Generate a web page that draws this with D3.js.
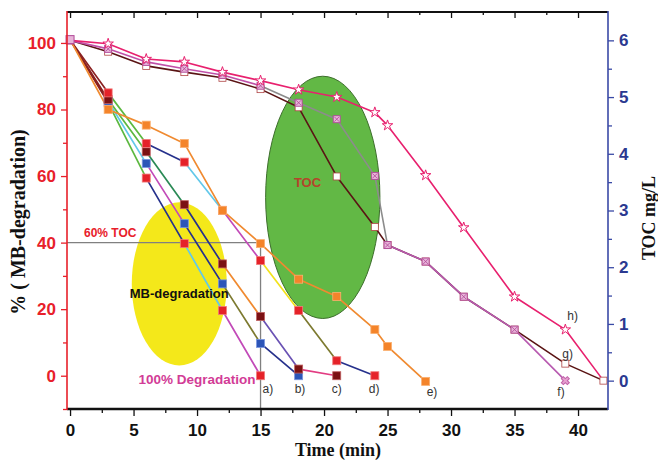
<!DOCTYPE html>
<html>
<head>
<meta charset="utf-8">
<script src="https://d3js.org/d3.v7.min.js"></script>
<style>
  body { margin: 0; background: #fff; }
  text { font-family: Arial, "Liberation Sans", sans-serif; }
  text.serif { font-family: "Liberation Serif", "Times New Roman", serif; }
</style>
</head>
<body>
<script>
// ---- MB degradation runs (% , left axis) ----
var timeA = [0, 3, 6, 9, 12, 15];
var degA  = [101, 82, 59.4, 39.7, 19.6, 0];
var timeB = [0, 3, 6, 9, 12, 15, 18];
var degB  = [101, 82.5, 63.8, 45.7, 27.6, 9.7, 0];
var timeC = [0, 3, 6, 9, 12, 15, 18, 21];
var degC  = [101, 83, 67.3, 51.4, 33.6, 17.8, 2, 0];
var timeD = [0, 3, 6, 9, 12, 15, 18, 21, 24];
var degD  = [101, 85, 69.8, 64.2, 49.7, 34.6, 19.6, 4.5, 0];
var timeE = [0, 3, 6, 9, 12, 15, 18, 21, 24, 25, 28];
var degE  = [101, 80, 75.3, 69.8, 49.7, 39.7, 29, 23.8, 13.9, 8.8, -1.7];

// ---- TOC runs (mg/L, right axis) ----
var timeF = [0, 3, 6, 9, 12, 15, 18, 21, 24, 25, 28, 31, 35, 39];
var tocF  = [6.0, 5.85, 5.62, 5.5, 5.39, 5.2, 4.9, 4.61, 3.61, 2.39, 2.1, 1.48, 0.9, 0];
var timeG = [0, 3, 6, 9, 12, 15, 18, 21, 24, 25, 28, 31, 35, 39, 42];
var tocG  = [6.0, 5.8, 5.55, 5.44, 5.34, 5.14, 4.82, 3.6, 2.71, 2.39, 2.1, 1.48, 0.9, 0.3, 0];
var timeH = [0, 3, 6, 9, 12, 15, 18, 21, 24, 25, 28, 31, 35, 39, 42];
var tocH  = [6.0, 5.94, 5.67, 5.62, 5.44, 5.29, 5.13, 5.0, 4.73, 4.5, 3.62, 2.7, 1.48, 0.9, 0];

var xTicks = [0, 5, 10, 15, 20, 25, 30, 35, 40];
var yTicks = [0, 20, 40, 60, 80, 100];
var tocTicks = [0, 1, 2, 3, 4, 5, 6];

// segment colours (the original plot changes colour between points)
var brown = "#8a2020", green = "#5cb840", dgreen = "#2a8a55", cyan = "#62c8ea",
    navy = "#26318c", magenta = "#c24ab8", olive = "#7d7a30", yellow = "#f2e21c",
    purple = "#6a52b4", pink = "#e23c82", orange = "#f08a30";

var width = 658, height = 460;
var svg = d3.select("body").append("svg")
  .attr("width", width).attr("height", height);

var x = d3.scaleLinear().domain([-0.24, 42.36]).range([67, 608]);
var y = d3.scaleLinear().domain([-10, 109.3]).range([409, 12]);
var yT = d3.scaleLinear().domain([-0.5, 6.5]).range([409, 12]);

// ellipses (annotations, behind the data)
svg.append("ellipse")
  .attr("cx", x(8.6)).attr("cy", y(27.6))
  .attr("rx", x(8.6 + 3.74) - x(8.6)).attr("ry", y(27.6) - y(27.6 + 24.5))
  .attr("fill", "#f4e81a");
svg.append("ellipse")
  .attr("cx", x(19.9)).attr("cy", y(53.6))
  .attr("rx", x(19.9 + 4.5) - x(19.9)).attr("ry", y(53.6) - y(53.6 + 36.4))
  .attr("fill", "#62b845").attr("stroke", "#3d6e2c").attr("stroke-width", 1);

// 60% TOC guide lines
svg.append("path")
  .attr("d", "M" + x(-0.24) + "," + y(40) + "H" + x(15) + "V" + y(-10))
  .attr("fill", "none").attr("stroke", "#808080").attr("stroke-width", 1.3);

function drawSeries(ts, vs, scale, colors, w) {
  for (var i = 0; i < ts.length - 1; i++) {
    svg.append("line")
      .attr("x1", x(ts[i])).attr("y1", scale(vs[i]))
      .attr("x2", x(ts[i + 1])).attr("y2", scale(vs[i + 1]))
      .attr("stroke", Array.isArray(colors) ? colors[i] : colors)
      .attr("stroke-width", w || 1.7)
      .attr("stroke-linecap", "round");
  }
}

// TOC lines
drawSeries(timeG, tocG, yT, "#5a1414", 1.6);
drawSeries(timeF, tocF, yT,
  ["#c050a8","#c050a8","#c050a8","#c050a8","#c050a8","#8c8c8c","#8c8c8c","#8c8c8c","#8c8c8c",
   "#b85ab0","#b85ab0","#b85ab0","#b85ab0"], 1.6);
drawSeries(timeH, tocH, yT, "#e8206e", 1.6);

// degradation lines
drawSeries(timeA, degA, y, [brown, green, navy, cyan, magenta]);
drawSeries(timeB, degB, y, [brown, cyan, magenta, navy, olive, navy]);
drawSeries(timeC, degC, y, [brown, green, dgreen, navy, orange, purple, pink]);
drawSeries(timeD, degD, y, [brown, green, navy, cyan, magenta, yellow, olive, navy]);
drawSeries(timeE, degE, y, orange);

// markers
function squares(ts, vs, scale, fill, stroke, size, skipFirst) {
  ts.forEach(function (t, i) {
    if (skipFirst && i === 0) return;
    svg.append("rect")
      .attr("x", x(t) - size / 2).attr("y", scale(vs[i]) - size / 2)
      .attr("width", size).attr("height", size)
      .attr("fill", fill).attr("stroke", stroke).attr("stroke-width", 0.8);
  });
}
squares(timeG, tocG, yT, "#fff", "#b04545", 7);
timeF.forEach(function (t, i) {
  var cx = x(t), cy = yT(tocF[i]);
  if (i === timeF.length - 1) {
    svg.append("path").attr("d", d3.symbol().type(d3.symbolCross).size(40)())
      .attr("transform", "translate(" + cx + "," + cy + ") rotate(45)")
      .attr("fill", "#e6a0d0").attr("stroke", "#c060a8");
    return;
  }
  svg.append("rect").attr("x", cx - 3.5).attr("y", cy - 3.5).attr("width", 7).attr("height", 7)
    .attr("fill", "#e8b4d8").attr("stroke", "#b04898").attr("stroke-width", 0.9);
  svg.append("path").attr("d", "M" + (cx - 2.5) + "," + (cy - 2.5) + "L" + (cx + 2.5) + "," + (cy + 2.5) +
      "M" + (cx + 2.5) + "," + (cy - 2.5) + "L" + (cx - 2.5) + "," + (cy + 2.5))
    .attr("stroke", "#b04898").attr("stroke-width", 0.8);
});
timeH.forEach(function (t, i) {
  if (i === 0 || i === timeH.length - 1) return;
  svg.append("path").attr("d", d3.symbol().type(d3.symbolStar).size(34)())
    .attr("transform", "translate(" + x(t) + "," + yT(tocH[i]) + ")")
    .attr("fill", "#fff").attr("stroke", "#e8206e").attr("stroke-width", 1);
});

squares(timeA, degA, y, "#e52229", "#f27a7a", 8, true);
squares(timeB, degB, y, "#2c55b8", "#7a96e0", 8, true);
squares(timeC, degC, y, "#7b1113", "#c06060", 8, true);
squares(timeD, degD, y, "#e52229", "#f27a7a", 8, true);
squares(timeE, degE, y, "#f4842a", "#fab070", 8, true);
// common starting point
svg.append("rect").attr("x", x(0) - 4).attr("y", y(101) - 4).attr("width", 8).attr("height", 8)
  .attr("fill", "#e8b4d8").attr("stroke", "#b04898");

// ---- axes ----
function styleAxis(g, color, fontSize) {
  g.select(".domain").remove();
  g.selectAll("line").attr("stroke", color).attr("stroke-width", 1.3);
  g.selectAll("text").attr("fill", color).attr("font-weight", "bold")
    .attr("font-size", fontSize);
}
var minorX = d3.range(2.5, 42, 5);

var gb = svg.append("g").attr("transform", "translate(0,409)")
  .call(d3.axisBottom(x).tickValues(xTicks).tickSize(7).tickPadding(8).tickSizeOuter(0));
styleAxis(gb, "#111", "17px");
var gbm = svg.append("g").attr("transform", "translate(0,409)")
  .call(d3.axisBottom(x).tickValues(minorX).tickSize(4).tickFormat("").tickSizeOuter(0));
styleAxis(gbm, "#111", "1px");
var gt = svg.append("g").attr("transform", "translate(0,12)")
  .call(d3.axisBottom(x).tickValues(xTicks).tickSize(6).tickFormat("").tickSizeOuter(0));
styleAxis(gt, "#111", "1px");
var gtm = svg.append("g").attr("transform", "translate(0,12)")
  .call(d3.axisBottom(x).tickValues(minorX).tickSize(3).tickFormat("").tickSizeOuter(0));
styleAxis(gtm, "#111", "1px");

var gl = svg.append("g").attr("transform", "translate(67,0)")
  .call(d3.axisLeft(y).tickValues(yTicks).tickSize(6).tickPadding(5).tickSizeOuter(0));
styleAxis(gl, "#e8202a", "17px");
var glm = svg.append("g").attr("transform", "translate(67,0)")
  .call(d3.axisLeft(y).tickValues([-10, 10, 30, 50, 70, 90]).tickSize(4).tickFormat("").tickSizeOuter(0));
styleAxis(glm, "#e8202a", "1px");

var gr = svg.append("g").attr("transform", "translate(608,0)")
  .call(d3.axisRight(yT).tickValues(tocTicks).tickFormat(d3.format("d"))
    .tickSize(6).tickPadding(5).tickSizeOuter(0));
styleAxis(gr, "#3a4aa6", "17px");
gr.selectAll("text").attr("fill", "#2b3990");
var grm = svg.append("g").attr("transform", "translate(608,0)")
  .call(d3.axisRight(yT).tickValues(d3.range(0.5, 6.5, 1)).tickSize(4).tickFormat("").tickSizeOuter(0));
styleAxis(grm, "#3a4aa6", "1px");

// frame lines
svg.append("line").attr("x1", 67).attr("x2", 608).attr("y1", 409).attr("y2", 409)
  .attr("stroke", "#111").attr("stroke-width", 2.6);
svg.append("line").attr("x1", 67).attr("x2", 608).attr("y1", 12).attr("y2", 12)
  .attr("stroke", "#111").attr("stroke-width", 2);
svg.append("line").attr("x1", 67).attr("x2", 67).attr("y1", 11).attr("y2", 410)
  .attr("stroke", "#e8202a").attr("stroke-width", 1.6);
svg.append("line").attr("x1", 608).attr("x2", 608).attr("y1", 11).attr("y2", 410)
  .attr("stroke", "#3a4aa6").attr("stroke-width", 1.6);

// axis titles
svg.append("text").attr("class", "serif").text("Time (min)")
  .attr("x", 338).attr("y", 456).attr("text-anchor", "middle")
  .attr("font-weight", "bold").attr("font-size", "18px").attr("fill", "#111");
svg.append("text").attr("class", "serif").text("% ( MB-degradation)")
  .attr("transform", "translate(25,222) rotate(-90)").attr("text-anchor", "middle")
  .attr("font-weight", "bold").attr("font-size", "20px").attr("fill", "#111");
svg.append("text").attr("class", "serif").text("TOC mg/L")
  .attr("transform", "translate(655,218) rotate(-90)").attr("text-anchor", "middle")
  .attr("font-weight", "bold").attr("font-size", "18px").attr("fill", "#111");

// annotations
svg.append("text").text("60% TOC").attr("x", x(1.1)).attr("y", y(40) - 6)
  .attr("font-weight", "bold").attr("font-size", "12px").attr("fill", "#e8202a");
svg.append("text").text("MB-degradation").attr("x", x(8.6)).attr("y", y(23.5))
  .attr("text-anchor", "middle").attr("font-weight", "bold").attr("font-size", "13px").attr("fill", "#111");
svg.append("text").text("TOC").attr("x", x(18.7)).attr("y", y(56.7))
  .attr("text-anchor", "middle").attr("font-weight", "bold").attr("font-size", "13px").attr("fill", "#b5442a");
svg.append("text").text("100% Degradation").attr("x", x(14.6)).attr("y", y(-2.5))
  .attr("text-anchor", "end").attr("font-weight", "bold").attr("font-size", "13.5px").attr("fill", "#d23c96");

// run labels a) ... h)
var runLabels = ["a)", "b)", "c)", "d)", "e)", "f)", "g)", "h)"];
var labelTime = [15, 18, 21, 24, 28, 39, 39, 39];
var labelAxis = [y, y, y, y, y, yT, yT, yT];
var labelVal  = [0, 0, 0, 0, -1.7, 0, 0.3, 0.9];
var labelDx   = [2, -4, -5, -6, 1, -8, -3, 2];
var labelDy   = [17, 17, 17, 17, 15, 15, -6, -10];
runLabels.forEach(function (l, i) {
  svg.append("text").text(l)
    .attr("x", x(labelTime[i]) + labelDx[i]).attr("y", labelAxis[i](labelVal[i]) + labelDy[i])
    .attr("font-size", "12px").attr("fill", "#333");
});
</script>
</body>
</html>
